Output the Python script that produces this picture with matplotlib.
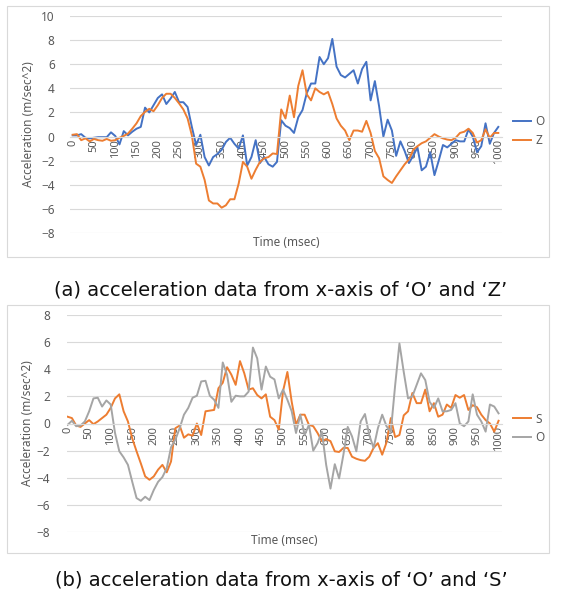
import numpy as np
import matplotlib
matplotlib.use("Agg")
import matplotlib.pyplot as plt
from matplotlib.patches import Rectangle

# --- Data (10 ms steps) ---
time_ms = np.arange(0, 1001, 10)

top_o = [0.1, 0.1, 0.2, -0.1, -0.15, -0.1, -0.05, -0.05, -0.05, 0.35,
         0.05, -0.65, 0.45, 0.1, 0.4, 0.65, 0.8, 2.4, 2.0, 2.6,
         3.2, 3.5, 2.7, 3.15, 3.7, 2.85, 2.85, 2.45, 0.8, -0.7,
         0.15, -1.7, -2.4, -1.7, -1.45, -1.1, -0.45, -0.1, -0.6, -1.0,
         0.1, -2.4, -1.7, -0.3, -2.2, -1.7, -2.3, -2.5, -2.1, 1.35,
         0.9, 0.7, 0.3, 1.6, 2.2, 3.6, 4.4, 4.4, 6.6, 6.0,
         6.5, 8.1, 5.8, 5.1, 4.9, 5.2, 5.5, 4.4, 5.6, 6.2,
         3.0, 4.6, 2.5, 0.0, 1.4, 0.5, -1.6, -0.4, -1.2, -2.2,
         -1.6, -0.9, -2.8, -2.5, -1.3, -3.2, -2.0, -0.7, -0.9, -0.6,
         -0.3, -0.4, -0.4, 0.6, 0.0, -1.3, -0.8, 1.1, -0.6, 0.3,
         0.8]

top_z = [0.15, 0.2, -0.3, -0.15, -0.4, -0.2, -0.3, -0.35, -0.2, -0.35,
         -0.3, -0.1, 0.05, 0.25, 0.65, 1.1, 1.7, 2.05, 2.3, 2.1,
         2.6, 3.2, 3.55, 3.55, 3.2, 2.75, 2.25, 1.5, 0.1, -2.25,
         -2.5, -3.6, -5.3, -5.55, -5.55, -5.9, -5.7, -5.2, -5.2, -3.9,
         -2.1, -2.5, -3.5, -2.75, -2.1, -1.8, -1.7, -1.4, -1.45, 2.25,
         1.5, 3.4, 1.6, 4.2, 5.5, 3.5, 3.0, 4.0, 3.7, 3.5,
         3.7, 2.7, 1.5, 0.9, 0.5, -0.3, 0.5, 0.5, 0.4, 1.3,
         0.3, -1.2, -1.8, -3.3, -3.6, -3.85, -3.3, -2.8, -2.3, -1.9,
         -1.1, -0.8, -0.55, -0.4, -0.1, 0.2, 0.0, -0.15, -0.25, -0.3,
         -0.1, 0.3, 0.4, 0.65, 0.3, -0.5, -0.3, 0.6, -0.1, 0.3,
         0.3]

bot_s = [0.5, 0.4, -0.15, -0.25, 0.0, 0.25, -0.05, 0.15, 0.4, 0.65,
         1.15, 1.85, 2.15, 0.9, 0.15, -1.1, -2.05, -2.95, -3.9, -4.15,
         -3.9, -3.4, -3.05, -3.6, -2.8, -0.35, -0.15, -1.05, -0.8, -0.9,
         0.0, -0.85, 0.9, 0.95, 1.0, 2.6, 3.0, 4.15, 3.6, 2.85,
         4.6, 3.7, 2.5, 2.6, 2.1, 1.85, 2.15, 0.5, 0.25, -0.45,
         2.4, 3.8, 1.6, -0.1, 0.65, 0.65, -0.1, -0.2, -0.7, -1.3,
         -1.15, -1.3, -2.05, -2.1, -1.8, -1.8, -2.45, -2.6, -2.7, -2.75,
         -2.45, -1.8, -1.45, -2.3, -1.4, 0.4, -1.0, -0.85, 0.6, 0.9,
         2.25, 1.5, 1.5, 2.5, 0.9, 1.5, 0.5, 0.65, 1.4, 1.15,
         2.1, 1.9, 2.1, 1.0, 1.35, 1.2, 0.65, 0.25, 0.0, -0.6,
         0.2]

bot_o = [-0.1, 0.2, -0.2, -0.15, 0.15, 0.9, 1.85, 1.9, 1.25, 1.7,
         1.4, -0.7, -2.05, -2.5, -3.05, -4.3, -5.5, -5.7, -5.4, -5.65,
         -4.9, -4.3, -3.95, -3.3, -1.75, -1.2, -0.35, 0.65, 1.15, 1.9,
         2.05, 3.1, 3.15, 2.05, 1.75, 1.15, 4.5, 3.6, 1.6, 2.05,
         2.0, 2.0, 2.35, 5.6, 4.8, 2.5, 4.2, 3.45, 3.25, 1.85,
         2.5, 1.75, 0.9, -0.7, 0.65, -0.85, -0.1, -2.0, -1.45, -0.6,
         -3.05, -4.8, -3.0, -4.05, -2.3, -0.25, -0.95, -2.05, 0.15, 0.7,
         -0.85, -1.8, -0.35, 0.65, -0.2, -0.6, 2.8, 5.9, 3.8, 1.85,
         2.0, 2.85, 3.7, 3.2, 1.6, 1.15, 1.85, 0.9, 0.9, 1.0,
         1.5, 0.0, -0.2, 0.15, 2.15, 0.65, 0.15, -0.6, 1.4, 1.25,
         0.75]

tick_times = np.arange(0, 1001, 50)

BLUE = "#4472C4"
ORANGE = "#ED7D31"
GRAY = "#A5A5A5"
TEXT = "#595959"
GRID = "#D9D9D9"

plt.rcParams["font.family"] = ["Noto Sans", "DejaVu Sans"]

W, H = 567, 606
fig = plt.figure(figsize=(W / 100, H / 100), dpi=100)


def px_axes(x0, y0, x1, y1):
    """Axes from pixel box (top-left origin)."""
    return fig.add_axes([x0 / W, 1 - y1 / H, (x1 - x0) / W, (y1 - y0) / H])


def style_chart(ax, ymin, ymax, xlim, ypad, ylab_x):
    for s in ["top", "right", "left"]:
        ax.spines[s].set_visible(False)
    # category axis crosses at zero, labels hang below it
    ax.spines["bottom"].set_position(("data", 0))
    ax.spines["bottom"].set_color(GRID)
    ax.spines["bottom"].set_linewidth(0.8)
    ax.set_ylim(ymin, ymax)
    ax.set_xlim(*xlim)
    ax.set_yticks(np.arange(ymin, ymax + 1, 2))
    ax.set_xticks(tick_times)
    ax.set_xticklabels([str(t) for t in tick_times])
    ax.grid(axis="y", color=GRID, linewidth=0.8)
    ax.set_axisbelow(True)
    ax.tick_params(axis="x", length=0, pad=2, labelsize=8, labelcolor=TEXT,
                   labelrotation=90)
    ax.tick_params(axis="y", length=0, pad=ypad, labelsize=8.5, labelcolor=TEXT)
    ax.text(ylab_x, 0.5, "Acceleration (m/sec^2)", transform=ax.transAxes,
            rotation=90, ha="center", va="center", fontsize=8.5, color=TEXT)


# --- (a) ---
ax1 = px_axes(70, 16, 502, 233)
ax1.plot(time_ms, top_o, color=BLUE, lw=1.4, label="O")
ax1.plot(time_ms, top_z, color=ORANGE, lw=1.4, label="Z")
style_chart(ax1, -8, 10, (-6.3, 1008.7), 11, -0.097)
ax1.text(0.5, -0.042, "Time (msec)", transform=ax1.transAxes,
         ha="center", va="center", fontsize=8.5, color=TEXT)
ax1.legend(loc="center left", bbox_to_anchor=(513 / W, 1 - 131 / H),
           bbox_transform=fig.transFigure, frameon=False, borderpad=0,
           borderaxespad=0, handlelength=1.5, handletextpad=0.4,
           labelspacing=0.5, fontsize=8.5, labelcolor=TEXT)

# --- (b) ---
ax2 = px_axes(67, 315, 502, 532)
ax2.plot(time_ms, bot_s, color=ORANGE, lw=1.4, label="S")
ax2.plot(time_ms, bot_o, color=GRAY, lw=1.4, label="O")
style_chart(ax2, -8, 8, (-1.4, 1008), 12, -0.09)
ax2.text(0.5, -0.038, "Time (msec)", transform=ax2.transAxes,
         ha="center", va="center", fontsize=8.5, color=TEXT)
ax2.legend(loc="center left", bbox_to_anchor=(513 / W, 1 - 428.5 / H),
           bbox_transform=fig.transFigure, frameon=False, borderpad=0,
           borderaxespad=0, handlelength=1.5, handletextpad=0.4,
           labelspacing=0.5, fontsize=8.5, labelcolor=TEXT)

# chart frames
for (x0, y0, x1, y1) in [(7, 6, 549, 257), (7, 305, 549, 553)]:
    fig.patches.append(Rectangle((x0 / W, 1 - y1 / H), (x1 - x0) / W, (y1 - y0) / H,
                                 transform=fig.transFigure, fill=False,
                                 edgecolor=GRID, linewidth=0.8))

# captions
cap_font = ["DejaVu Sans"]
fig.text(281 / W, 1 - 290 / H, "(a) acceleration data from x-axis of ‘O’ and ‘Z’",
         ha="center", va="center", fontsize=14, family=cap_font, color="#111111")
fig.text(281 / W, 1 - 580 / H, "(b) acceleration data from x-axis of ‘O’ and ‘S’",
         ha="center", va="center", fontsize=14, family=cap_font, color="#111111")

fig.savefig("out.png", dpi=100)
